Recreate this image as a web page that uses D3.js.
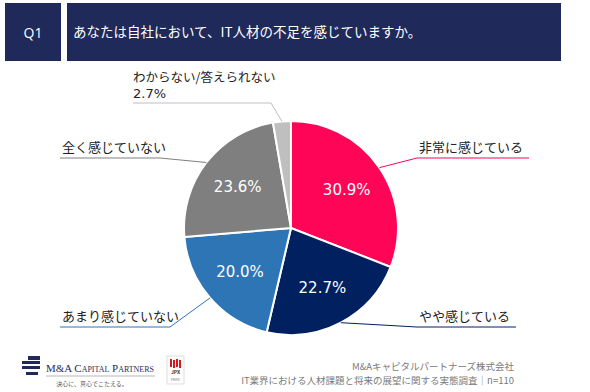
<!DOCTYPE html>
<html>
<head>
<meta charset="utf-8">
<script src="https://cdn.jsdelivr.net/npm/d3@7"></script>
<style>
  html, body { margin: 0; padding: 0; background: #fff; }
  svg { display: block; font-family: "Noto Sans CJK JP", "Noto Sans", sans-serif; }
</style>
</head>
<body>
<svg id="chart" width="590" height="392"></svg>
<script>
// answers, clockwise from 12 o'clock
const categories = ['非常に感じている', 'やや感じている', 'あまり感じていない', '全く感じていない', 'わからない/答えられない'];
const values = [30.9, 22.7, 20.0, 23.6, 2.7];
const colors = ['#ff0558', '#002060', '#2e75b6', '#7f7f7f', '#bfbfbf'];

const question = 'Q1';
const title = 'あなたは自社において、IT人材の不足を感じていますか。';
const footerLines = ['M&Aキャピタルパートナーズ株式会社', 'IT業界における人材課題と将来の展望に関する実態調査｜n=110'];

const svg = d3.select('#chart');

// header bars
const navy = '#1f2a5a';
svg.append('rect').attr('x', 5).attr('y', 3).attr('width', 56).attr('height', 58).attr('fill', navy);
svg.append('rect').attr('x', 67).attr('y', 3).attr('width', 494).attr('height', 58).attr('fill', navy);
svg.append('text').attr('x', 33).attr('y', 37.5).attr('text-anchor', 'middle')
  .attr('fill', '#fff').attr('font-size', 14).attr('font-family', 'Open Sans, sans-serif')
  .text(question);
svg.append('text').attr('x', 73).attr('y', 37).attr('fill', '#fff').attr('font-size', 13.5)
  .text(title);

// pie
const cx = 291, cy = 228, r = 107;
const data = categories.map((c, i) => ({name: c, value: values[i], color: colors[i]}));
const pie = d3.pie().value(d => d.value).sort(null);
const arcs = pie(data);
const arc = d3.arc().innerRadius(0).outerRadius(r);
const labelArc = d3.arc().innerRadius(r * 0.63).outerRadius(r * 0.63);

const g = svg.append('g').attr('transform', `translate(${cx},${cy})`);
g.selectAll('path').data(arcs).join('path')
  .attr('d', arc)
  .attr('fill', d => d.data.color)
  .attr('stroke', '#fff')
  .attr('stroke-width', 2);

g.selectAll('text.pct').data(arcs.filter(d => d.data.value > 5)).join('text')
  .attr('class', 'pct')
  .attr('transform', d => `translate(${labelArc.centroid(d)})`)
  .attr('text-anchor', 'middle').attr('dy', '0.36em')
  .attr('fill', '#fff').attr('font-size', 15)
  .attr('font-family', 'DejaVu Sans, sans-serif')
  .text(d => d.data.value.toFixed(1) + '%');

// callout labels: side of text, underline y, length of underline
const callouts = [
  {side: 'right', y: 158, len: 112},
  {side: 'right', y: 327, len: 99},
  {side: 'left', y: 327, len: 110},
  {side: 'left', y: 158, len: 100},
  {side: 'top', y: 103, len: 138}
];

arcs.forEach((d, i) => {
  const c = callouts[i];
  const mid = (d.startAngle + d.endAngle) / 2;
  const ex = cx + Math.sin(mid) * r, ey = cy - Math.cos(mid) * r;
  let x0, x1, knee;
  if (c.side === 'right') { x0 = 417; x1 = x0 + c.len; knee = x0; }
  else if (c.side === 'left') { x0 = 60; x1 = x0 + c.len; knee = x1; }
  else { x0 = 133; x1 = x0 + c.len; knee = x1; }
  svg.append('polyline')
    .attr('points', [[ex, ey], [knee, c.y], [c.side === 'right' ? x1 : x0, c.y]].map(p => p.join(',')).join(' '))
    .attr('fill', 'none').attr('stroke', d.data.color).attr('stroke-width', 1);
  if (c.side === 'top') {
    svg.append('text').attr('x', x0).attr('y', c.y - 21).attr('font-size', 12.5).attr('fill', '#222')
      .text(d.data.name);
    svg.append('text').attr('x', x0).attr('y', c.y - 5).attr('font-size', 13).attr('fill', '#222')
      .attr('font-family', 'DejaVu Sans, sans-serif')
      .text(d.data.value.toFixed(1) + '%');
  } else {
    svg.append('text').attr('x', x0 + 2).attr('y', c.y - 6).attr('font-size', 13).attr('fill', '#222')
      .text(d.data.name);
  }
});

// footer
svg.selectAll('text.foot').data(footerLines).join('text')
  .attr('class', 'foot')
  .attr('x', 514).attr('y', (d, i) => 370 + i * 14)
  .attr('text-anchor', 'end').attr('font-size', 9.5).attr('fill', '#7a7a7a')
  .text(d => d);

// logo
const logo = svg.append('g');
[[28, 356, 12], [22, 361, 18], [22, 366, 18], [26, 372, 12]].forEach(([x, y, w], i) => {
  logo.append('rect').attr('x', x).attr('y', y).attr('width', w).attr('height', i === 0 ? 4 : 3).attr('fill', '#1f2a5a');
});
logo.append('text').attr('x', 46).attr('y', 372).attr('font-size', 11)
  .attr('font-family', 'Liberation Serif, serif').attr('font-variant', 'small-caps')
  .attr('textLength', 108).attr('lengthAdjust', 'spacingAndGlyphs').attr('fill', '#1f2a5a')
  .text('M&A Capital Partners');
logo.append('line').attr('x1', 46).attr('x2', 155).attr('y1', 376).attr('y2', 376).attr('stroke', '#888').attr('stroke-width', 0.6);
logo.append('text').attr('x', 92).attr('y', 386).attr('text-anchor', 'middle').attr('font-size', 6).attr('fill', '#555')
  .text('決心に、真心でこたえる。');
logo.append('rect').attr('x', 167).attr('y', 356).attr('width', 17).attr('height', 28).attr('fill', '#fff').attr('stroke', '#ddd');
[170, 173, 176, 179].forEach((x, i) => {
  logo.append('rect').attr('x', x).attr('y', 359 + (i % 2)).attr('width', 2).attr('height', 8).attr('fill', '#d71920');
});
logo.append('text').attr('x', 175.5).attr('y', 374).attr('text-anchor', 'middle').attr('font-size', 5).attr('font-weight', 'bold').attr('fill', '#333').text('JPX');
logo.append('text').attr('x', 175.5).attr('y', 381).attr('text-anchor', 'middle').attr('font-size', 3).attr('fill', '#777').text('PRIME');
</script>
</body>
</html>
